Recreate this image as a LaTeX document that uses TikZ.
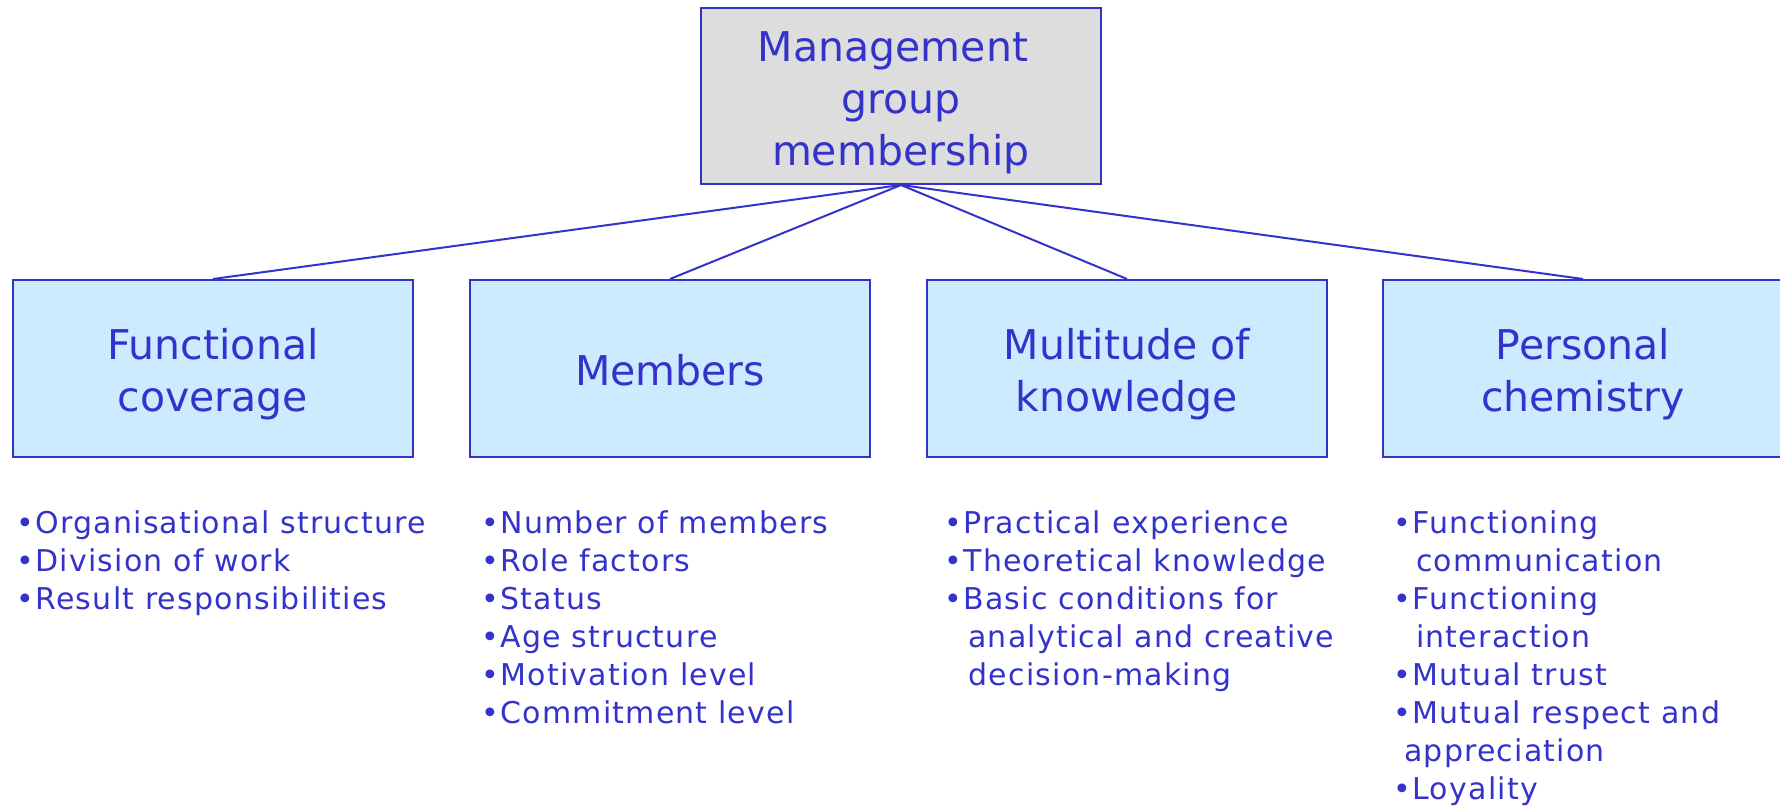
\documentclass[tikz,border=0pt]{standalone}
\usepackage{fontspec}
\setmainfont{DejaVu Sans}
\newfontfamily\listfont[LetterSpace=4]{DejaVu Sans}
\definecolor{ink}{RGB}{51,51,204}
\definecolor{boxblue}{RGB}{204,235,255}
\definecolor{boxgray}{RGB}{221,221,221}
\begin{document}
\begin{tikzpicture}[x=1pt,y=-1pt,
  catbox/.style={draw=ink, line width=2pt, fill=boxblue, minimum width=400pt, minimum height=177pt, inner sep=0pt},
  headbox/.style={catbox, fill=boxgray, minimum height=176pt},
  boxtext/.style={inner sep=0pt, align=center, text=ink, font=\fontsize{41}{52}\selectfont},
  itemlist/.style={anchor=base west, inner sep=0pt, align=left, text=ink, font=\listfont\fontsize{30}{38}\selectfont},
  link/.style={draw=ink, line width=2pt}]
\useasboundingbox (0,0) rectangle (1780,808);
\clip (0,0) rectangle (1780,808);
\node[headbox] (top) at (901,96) {};
\node[catbox] (func) at (213,368.5) {};
\node[catbox] (memb) at (670,368.5) {};
\node[catbox] (know) at (1127,368.5) {};
\node[catbox] (chem) at (1583,368.5) {};
\node[boxtext, yshift=-6.5pt] (topt) at (top.center) {Management\kern16pt\\group\\membership};
\node[boxtext, yshift=-6pt] (funct) at (func.center) {Functional\\coverage};
\node[boxtext, yshift=-2pt] (membt) at (memb.center) {Members};
\node[boxtext, yshift=-6pt] (knowt) at (know.center) {Multitude of\\knowledge};
\node[boxtext, yshift=-6pt] (chemt) at (chem.center) {Personal\\chemistry};
\draw[link] (top.south) -- (func.north);
\draw[link] (top.south) -- (memb.north);
\draw[link] (top.south) -- (know.north);
\draw[link] (top.south) -- (chem.north);
% base anchor of a multi-line node = baseline of its last line
\node[itemlist] (funcl) at (16.5,609) {•Organisational structure\\•Division of work\\•Result responsibilities};
\node[itemlist] (membl) at (481.5,723) {•Number of members\\•Role factors\\•Status\\•Age structure\\•Motivation level\\•Commitment level};
\node[itemlist] (knowl) at (944.5,685) {•Practical experience\\•Theoretical knowledge\\•Basic conditions for\\\hspace*{23.5pt}analytical and creative\\\hspace*{24pt}decision-making};
\node[itemlist] (cheml) at (1393.5,799) {•Functioning\\\hspace*{22.5pt}communication\\•Functioning\\\hspace*{22.5pt}interaction\\•Mutual trust\\•Mutual respect and\\\hspace*{10.5pt}appreciation\\•Loyality};
\end{tikzpicture}
\end{document}
